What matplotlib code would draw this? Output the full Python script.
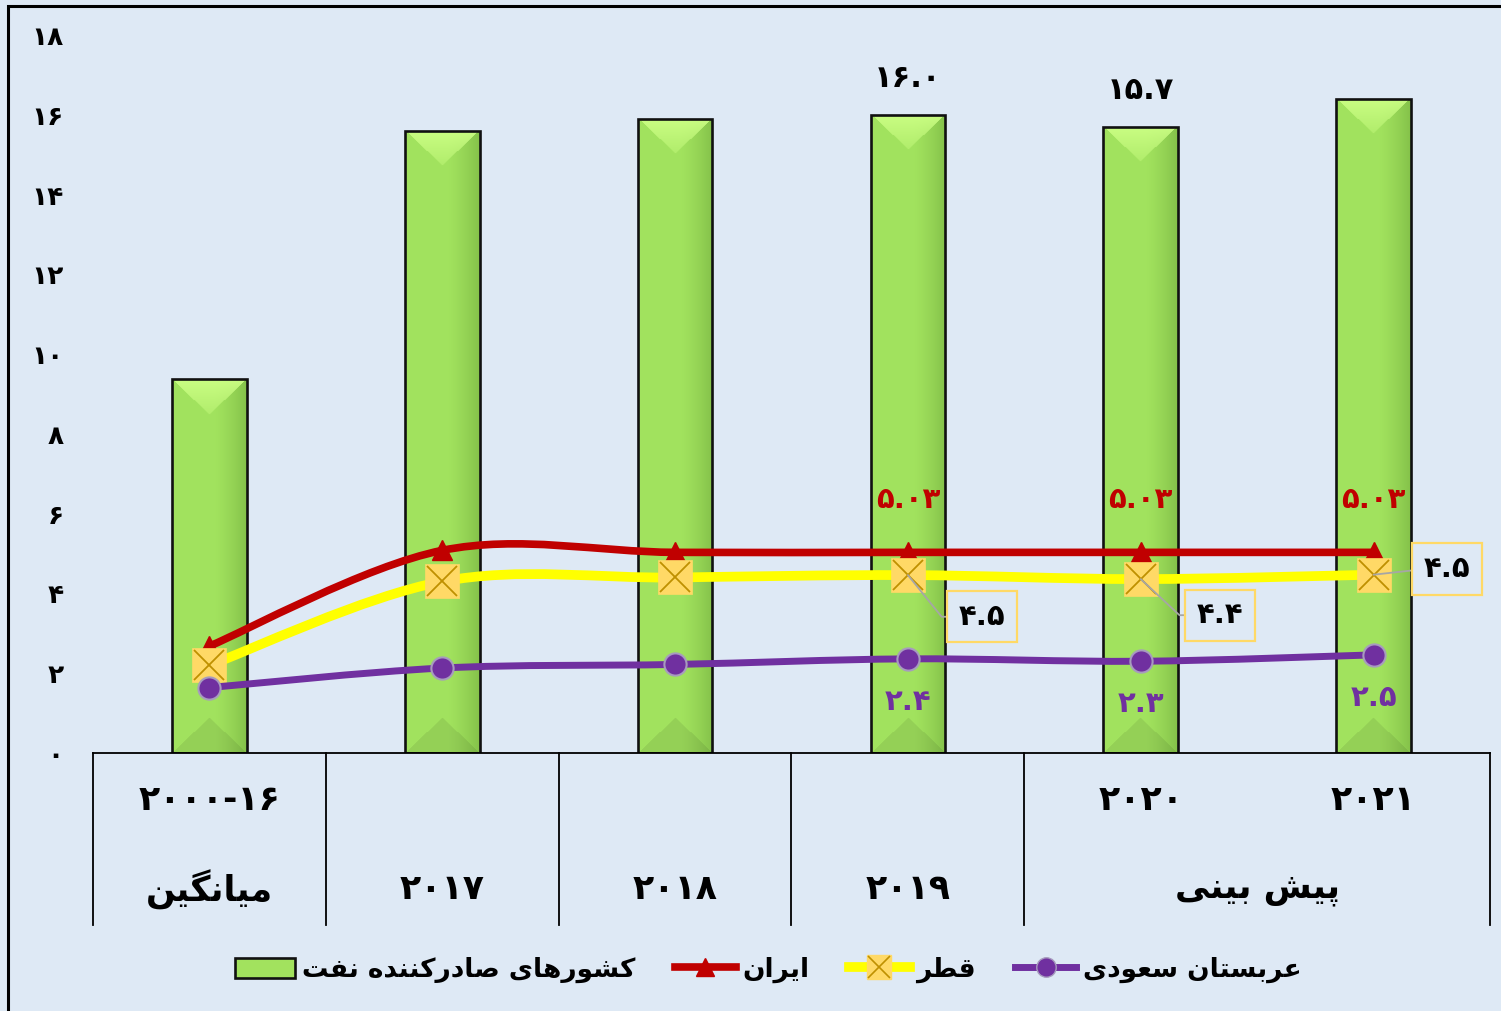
import numpy as np
import matplotlib
matplotlib.use('Agg')
import matplotlib.pyplot as plt
from matplotlib.patches import Rectangle, PathPatch
from matplotlib.path import Path
from matplotlib.lines import Line2D
from matplotlib.legend_handler import HandlerTuple

plt.rcParams['font.family'] = ['DejaVu Sans']
plt.rcParams['font.weight'] = 'bold'

# ---------------- data ----------------
row1_labels = ['2000-16', '', '', '', '2020', '2021']
row2_labels = ['میانگین', '2017', '2018', '2019', 'پیش بینی']
row2_pos = [0, 1, 2, 3, 4.5]
group_edges = [-0.5, 0.5, 1.5, 2.5, 3.5, 5.5]

opec = [9.37, 15.6, 15.9, 16.0, 15.7, 16.4]
iran = [2.68, 5.08, 5.03, 5.03, 5.03, 5.03]
qatar = [2.2, 4.3, 4.4, 4.46, 4.36, 4.47]
saudi = [1.64, 2.13, 2.22, 2.36, 2.3, 2.46]

opec_label_idx = [3, 4]
iran_label_idx = [3, 4, 5]
qatar_label_idx = [3, 4, 5]
saudi_label_idx = [3, 4, 5]

yticks = list(range(0, 19, 2))

legend_names = ['کشورهای صادرکننده نفت', 'ایران', 'قطر', 'عربستان سعودی']

# ---------------- helpers ----------------
FA_DIGITS = str.maketrans('0123456789', '۰۱۲۳۴۵۶۷۸۹')


def fa(s):
    return str(s).translate(FA_DIGITS)


_AR = {
    'ا': ('\uFE8D', '\uFE8E', None, None),
    'ب': ('\uFE8F', '\uFE90', '\uFE91', '\uFE92'),
    'پ': ('\uFB56', '\uFB57', '\uFB58', '\uFB59'),
    'ت': ('\uFE95', '\uFE96', '\uFE97', '\uFE98'),
    'د': ('\uFEA9', '\uFEAA', None, None),
    'ر': ('\uFEAD', '\uFEAE', None, None),
    'س': ('\uFEB1', '\uFEB2', '\uFEB3', '\uFEB4'),
    'ش': ('\uFEB5', '\uFEB6', '\uFEB7', '\uFEB8'),
    'ص': ('\uFEB9', '\uFEBA', '\uFEBB', '\uFEBC'),
    'ط': ('\uFEC1', '\uFEC2', '\uFEC3', '\uFEC4'),
    'ع': ('\uFEC9', '\uFECA', '\uFECB', '\uFECC'),
    'ف': ('\uFED1', '\uFED2', '\uFED3', '\uFED4'),
    'ق': ('\uFED5', '\uFED6', '\uFED7', '\uFED8'),
    'ک': ('\uFB8E', '\uFB8F', '\uFB90', '\uFB91'),
    'گ': ('\uFB92', '\uFB93', '\uFB94', '\uFB95'),
    'م': ('\uFEE1', '\uFEE2', '\uFEE3', '\uFEE4'),
    'ن': ('\uFEE5', '\uFEE6', '\uFEE7', '\uFEE8'),
    'ه': ('\uFEE9', '\uFEEA', '\uFEEB', '\uFEEC'),
    'و': ('\uFEED', '\uFEEE', None, None),
    'ی': ('\uFBFC', '\uFBFD', '\uFBFE', '\uFBFF'),
}


def shape(text):
    """Contextual shaping + visual (RTL) ordering for Persian text."""
    if not any(c in _AR for c in text):
        return fa(text)
    out = []
    n = len(text)
    for i, c in enumerate(text):
        if c not in _AR:
            out.append(c)
            continue
        prev = text[i - 1] if i > 0 else None
        nxt = text[i + 1] if i < n - 1 else None
        jp = prev in _AR and _AR[prev][2] is not None
        jn = nxt in _AR and _AR[c][2] is not None
        f = _AR[c]
        if jp and jn:
            out.append(f[3])
        elif jp:
            out.append(f[1])
        elif jn:
            out.append(f[2])
        else:
            out.append(f[0])
    return ''.join(reversed(out))


def smooth_path(x, y):
    verts = [(x[0], y[0])]
    codes = [Path.MOVETO]
    n = len(x)
    for i in range(n - 1):
        p0 = (x[i - 1], y[i - 1]) if i > 0 else (x[i], y[i])
        p1 = (x[i], y[i])
        p2 = (x[i + 1], y[i + 1])
        p3 = (x[i + 2], y[i + 2]) if i + 2 < n else p2
        c1 = (p1[0] + (p2[0] - p0[0]) / 6, p1[1] + (p2[1] - p0[1]) / 6)
        c2 = (p2[0] - (p3[0] - p1[0]) / 6, p2[1] - (p3[1] - p1[1]) / 6)
        verts += [c1, c2, p2]
        codes += [Path.CURVE4] * 3
    return Path(verts, codes)


def bar_img(hpx, wpx):
    hpx = max(int(hpx), 2)
    wpx = max(int(wpx), 2)
    u = np.linspace(0, 1, wpx)[None, :]
    v = np.arange(hpx)[:, None].astype(float)
    base = np.array([0.635, 0.89, 0.37])
    dark = np.array([0.52, 0.76, 0.29])
    t = np.clip((u - 0.55) / 0.45, 0, 1) ** 1.4
    img = base * (1 - t[..., None]) + dark * t[..., None]
    img = np.broadcast_to(img, (hpx, wpx, 3)).copy()
    depth = 0.47 * wpx
    tri_top = v < depth * (1 - np.abs(2 * u - 1))
    light = np.array([0.80, 1.0, 0.52])
    f = np.clip(1 - v / depth, 0, 1)
    mix = (0.35 + 0.6 * f)[..., None]
    img = np.where(tri_top[..., None], light * mix + img * (1 - mix), img)
    vb = hpx - 1 - v
    tri_bot = vb < depth * (1 - np.abs(2 * u - 1))
    img = np.where(tri_bot[..., None], img * 0.92, img)
    return np.clip(img, 0, 1)


# ---------------- figure ----------------
BG = '#DEE9F5'
W, H = 1501, 1011
fig = plt.figure(figsize=(W / 100, H / 100), dpi=100, facecolor=BG)
ax = fig.add_axes([93 / W, (H - 753) / H, (1490 - 93) / W, (753 - 35) / H])
ax.set_facecolor(BG)
ax.set_xlim(-0.5, 5.5)
ax.set_ylim(0, 18)

x = np.arange(len(opec))
bw = 0.32
bars = ax.bar(x, opec, width=bw, color='#A2E25E', edgecolor='none', zorder=2)

# gradient fill for bars
px_per_y = (753 - 35) / 18.0
px_per_x = (1490 - 93) / 6.0
for b in bars:
    x0, w_, h_ = b.get_x(), b.get_width(), b.get_height()
    img = bar_img(h_ * px_per_y, w_ * px_per_x)
    im = ax.imshow(img, extent=(x0, x0 + w_, 0, h_), origin='upper',
                   aspect='auto', interpolation='bilinear', zorder=2.1)
    im.set_clip_path(b)
ax.bar(x, opec, width=bw, fill=False, edgecolor='#111111', linewidth=1.9, zorder=2.2)

# lines (Excel-like smoothed)
ax.add_patch(PathPatch(smooth_path(x, iran), fill=False, edgecolor='#C00000',
                       lw=5.5, capstyle='round', joinstyle='round', zorder=3))
ax.plot(x, iran, ls='none', marker='^', ms=15, color='#C00000', zorder=3.1)

ax.add_patch(PathPatch(smooth_path(x, qatar), fill=False, edgecolor='#FFFF00',
                       lw=7, capstyle='round', joinstyle='round', zorder=4))
ax.plot(x, qatar, ls='none', marker='s', ms=24, mfc='#FFD966', mec='#FFD966',
        mew=0.5, zorder=4.1)
ax.plot(x, qatar, ls='none', marker='x', ms=22, mec='#BF9000', mew=1.3, zorder=4.2)

ax.add_patch(PathPatch(smooth_path(x, saudi), fill=False, edgecolor='#7030A0',
                       lw=5, capstyle='round', joinstyle='round', zorder=5))
ax.plot(x, saudi, ls='none', marker='o', ms=16, mfc='#7030A0', mec='#A79BBE',
        mew=1.5, zorder=5.1)

# data labels
for i in opec_label_idx:
    ax.annotate(fa(f'{opec[i]:.1f}'), (x[i], opec[i]), xytext=(0, 26),
                textcoords='offset points', ha='center', va='center',
                fontsize=22, fontweight='bold', color='black', zorder=6)
for i in iran_label_idx:
    ax.annotate(fa(f'{iran[i]:.2f}'), (x[i], iran[i]), xytext=(0, 38),
                textcoords='offset points', ha='center', va='center',
                fontsize=21, fontweight='bold', color='#C00000', zorder=6)
for i in saudi_label_idx:
    ax.annotate(fa(f'{saudi[i]:.1f}'), (x[i], saudi[i]), xytext=(0, -31),
                textcoords='offset points', ha='center', va='center',
                fontsize=21, fontweight='bold', color='#7030A0', zorder=6)

q_offsets = [(53, -30), (57, -26), (53, 4)]
q_conn = ['angle,angleA=0,angleB=-51', 'angle,angleA=0,angleB=-43', 'arc3']
for k, i in enumerate(qatar_label_idx):
    ax.annotate(fa(f'{qatar[i]:.1f}'), (x[i], qatar[i]), xytext=q_offsets[k],
                textcoords='offset points', ha='center', va='center',
                fontsize=21, fontweight='bold', color='black', zorder=6,
                bbox=dict(boxstyle='square,pad=0.4', fc=BG, ec='#FFD966', lw=1.6),
                arrowprops=dict(arrowstyle='-', color='#A6A6A6', lw=1.3,
                                shrinkA=0, shrinkB=0, relpos=(0, 0.5),
                                connectionstyle=q_conn[k]))

# axes styling
for s in ['left', 'right', 'top']:
    ax.spines[s].set_visible(False)
ax.spines['bottom'].set_color('black')
ax.spines['bottom'].set_linewidth(1.3)
ax.set_yticks(yticks)
ax.set_yticklabels([fa(v) for v in yticks], fontsize=19, fontweight='bold')
ax.tick_params(axis='y', length=0, pad=21)
ax.set_xticks([])

# multi-level category axis
xt = ax.get_xaxis_transform()
for e in group_edges:
    ax.add_line(Line2D([e, e], [0, -0.2396], transform=xt, color='black',
                       lw=1.3, clip_on=False))
for i, lab in enumerate(row1_labels):
    if lab:
        ax.text(x[i], -0.066, fa(lab), transform=xt, ha='center', va='center',
                fontsize=25, fontweight='bold')
for p, lab in zip(row2_pos, row2_labels):
    ax.text(p, -0.19, shape(lab), transform=xt, ha='center', va='center',
            fontsize=25, fontweight='bold')

# legend
h_bar = Rectangle((0, 0), 1, 1, fc='#A2E25E', ec='#111111', lw=1.9)
h_iran = Line2D([], [], color='#C00000', lw=5.5, marker='^', ms=13)
h_q1 = Line2D([], [], color='#FFFF00', lw=7, marker='s', ms=17, mfc='#FFD966', mec='#FFD966')
h_q2 = Line2D([], [], ls='none', marker='x', ms=16, mec='#BF9000', mew=1.2)
h_saudi = Line2D([], [], color='#7030A0', lw=5, marker='o', ms=14, mfc='#7030A0', mec='#A79BBE')
fig.legend([h_bar, h_iran, (h_q1, h_q2), h_saudi],
           [shape(n) for n in legend_names],
           handler_map={tuple: HandlerTuple(ndivide=1, pad=0)},
           loc='center', bbox_to_anchor=(768 / W, (H - 970) / H), ncol=4,
           frameon=False, prop={'size': 19, 'weight': 'bold'},
           handlelength=2.3, handleheight=0.8, handletextpad=0.25, columnspacing=1.5)

# outer border (top and left visible)
fig.patches.append(Rectangle((8 / W, -0.01), 1.2, (H - 6) / H + 0.01, transform=fig.transFigure,
                             fill=False, ec='black', lw=2.2, zorder=0))

fig.savefig('out.png', dpi=100, facecolor=BG)
